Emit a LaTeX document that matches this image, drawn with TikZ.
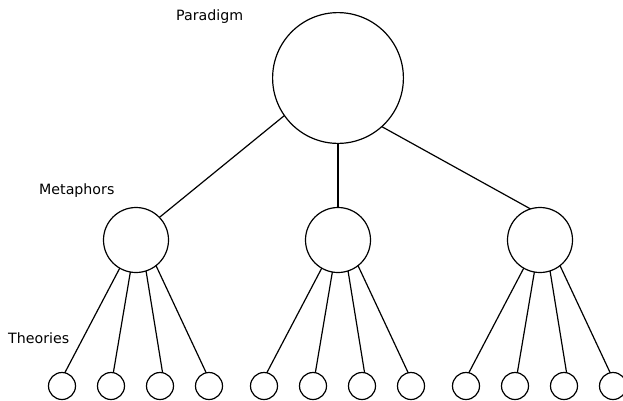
\documentclass[tikz,border=0pt]{standalone}
\usepackage{fontspec}
\setmainfont{DejaVu Sans}
\begin{document}
\begin{tikzpicture}[x=1pt,y=-1pt,
  bubble/.style={circle,draw,line width=1.2pt,inner sep=0pt,outer sep=0pt},
  link/.style={line width=1.2pt},
  lbl/.style={anchor=base west,inner sep=0pt,font=\fontsize{14.2}{17}\selectfont}]
\clip (0,0) rectangle (623,400);
\fill[white] (0,0) rectangle (623,400);
\node[bubble,minimum size=130.8pt] (p) at (338,78) {};
\foreach \i/\x in {1/136,2/338,3/540} {
  \node[bubble,minimum size=65pt] (m\i) at (\x,240) {};
  \foreach \k in {1,...,4} {
    \pgfmathsetmacro\cx{\x-74+49*(\k-1)}
    \node[bubble,minimum size=27pt] (t\i\k) at (\cx,386) {};
  }
}
\draw[link] (p.215) -- (m1.44);
\draw[link] (p.-90) -- (m2.90);
\draw[link] (p.-48) -- (m3.107);
\foreach \i in {1,2,3} {
  \draw[link] (m\i.240) -- (t\i1.78);
  \draw[link] (m\i.260) -- (t\i2.80);
  \draw[link] (m\i.288) -- (t\i3.79);
  \draw[link] (m\i.308) -- (t\i4.102);
}
\node[lbl] (lp) at (176,20) {Paradigm};
\node[lbl] (lm) at (39,194) {Metaphors};
\node[lbl] (lt) at (8,343) {Theories};
\end{tikzpicture}
\end{document}
